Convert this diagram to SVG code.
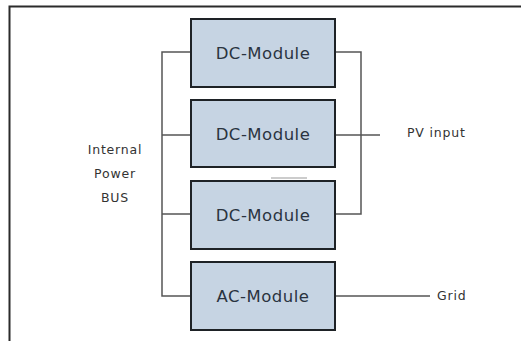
<svg xmlns="http://www.w3.org/2000/svg" width="521" height="341" viewBox="0 0 521 341">
<style>
.box{fill:#c6d4e3;stroke:#1e2226;stroke-width:2}
.lbl{font-family:"DejaVu Sans",Verdana,sans-serif;font-size:16.5px;letter-spacing:0.5px;fill:#2a3340;text-anchor:middle}
.t{font-family:"DejaVu Sans",Verdana,sans-serif;font-size:12.5px;letter-spacing:0.8px;fill:#333}
.c{fill:none;stroke:#555;stroke-width:1.5}
</style>
<rect width="521" height="341" fill="#fff"/>
<path d="M9.5,341 V6.5 H521" fill="none" stroke="#2b2b2b" stroke-width="2"/>
<g id="connectors">
<path class="c" d="M191,52 H162 V296 H191 M162,135 H191 M162,214 H191"/>
<path class="c" d="M335,52 H361 V214 H335 M335,135 H380"/>
<path class="c" d="M335,296 H430"/>
<path d="M271,178 H307" stroke="#999" stroke-width="1.2"/>
</g>
<g id="dc1"><rect class="box" x="191" y="19" width="144" height="68"/><text class="lbl" x="263" y="59">DC-Module</text></g>
<g id="dc2"><rect class="box" x="191" y="100" width="144" height="67"/><text class="lbl" x="263" y="140">DC-Module</text></g>
<g id="dc3"><rect class="box" x="191" y="181" width="144" height="68"/><text class="lbl" x="263" y="221">DC-Module</text></g>
<g id="ac"><rect class="box" x="191" y="262" width="144" height="68"/><text class="lbl" x="263" y="302">AC-Module</text></g>
<g id="bus"><text class="t" x="115" y="154" text-anchor="middle">Internal</text><text class="t" x="115" y="178" text-anchor="middle">Power</text><text class="t" x="115" y="202" text-anchor="middle">BUS</text></g>
<g id="pv"><text class="t" x="407" y="137">PV input</text></g>
<g id="grid"><text class="t" x="437" y="300">Grid</text></g>
</svg>
